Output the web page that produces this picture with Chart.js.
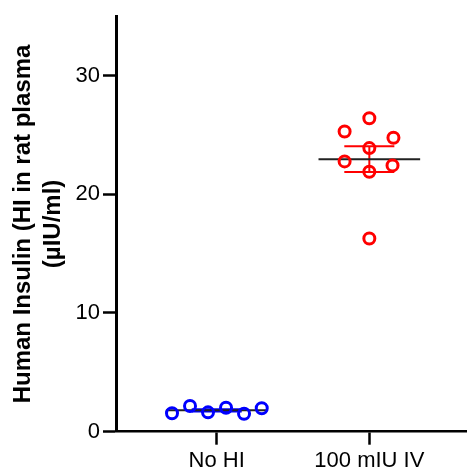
<!DOCTYPE html>
<html><head><meta charset="utf-8">
<script src="https://cdn.jsdelivr.net/npm/chart.js@4.4.1/dist/chart.umd.min.js"></script>
<style>html,body{margin:0;padding:0;background:#fff}#wrap{width:467px;height:470px}</style>
</head><body><div id="wrap"><canvas id="c" width="467" height="470"></canvas></div>
<script>
const categories = ['No HI', '100 mIU IV'];
const noHIValues = [1.55, 2.16, 1.63, 2.02, 1.51, 1.97];
const noHIJitter = [-0.293, -0.175, -0.057, 0.061, 0.179, 0.295];
const ivValues = [26.41, 25.29, 24.76, 23.89, 22.77, 22.43, 21.9, 16.27];
const ivJitter = [0, -0.162, 0.158, 0, -0.162, 0.152, 0, 0];
const groupMeans = [1.8, 22.96];
const groupSEMs = [0.1, 1.09];
const yTicks = [0, 10, 20, 30];
const groupColors = ['#0000ff', '#ff0000'];

Chart.defaults.font.family = "'Liberation Sans', Arial, Helvetica, sans-serif";
Chart.defaults.color = '#000';

function pts(vals, jit, cat) { return vals.map((v, i) => ({x: cat + jit[i], y: v})); }
function seg(a, b, color, w) {
  return {type: 'scatter', data: [a, b], showLine: true, borderColor: color, borderWidth: w,
    pointRadius: 0, pointHoverRadius: 0, order: 2, clip: false};
}
const datasets = [
  {type: 'scatter', data: pts(noHIValues, noHIJitter, 1), pointStyle: 'circle', pointRadius: 5.5,
    borderWidth: 3, borderColor: groupColors[0], backgroundColor: 'rgba(0,0,0,0)', order: 0},
  {type: 'scatter', data: pts(ivValues, ivJitter, 2), pointStyle: 'circle', pointRadius: 5.5,
    borderWidth: 3, borderColor: groupColors[1], backgroundColor: 'rgba(0,0,0,0)', order: 0}
];
groupMeans.forEach((m, i) => {
  const c = i + 1, s = groupSEMs[i], col = groupColors[i];
  datasets.push(seg({x: c, y: m - s}, {x: c, y: m + s}, col, 2));
  datasets.push(seg({x: c - 0.164, y: m + s}, {x: c + 0.164, y: m + s}, col, 2));
  datasets.push(seg({x: c - 0.164, y: m - s}, {x: c + 0.164, y: m - s}, col, 2));
  const ml = seg({x: c - 0.333, y: m}, {x: c + 0.333, y: m}, '#222', 2);
  ml.order = 1;
  datasets.push(ml);
});

new Chart(document.getElementById('c'), {
  type: 'scatter',
  data: {datasets},
  options: {
    responsive: false, animation: false, devicePixelRatio: 1,
    layout: {autoPadding: false, padding: {top: 15.5, left: 0, right: 0, bottom: 0}},
    plugins: {legend: {display: false}, tooltip: {enabled: false}},
    events: [],
    scales: {
      x: {
        type: 'linear', min: 0.34, max: 2.64,
        afterBuildTicks: s => { s.ticks = categories.map((c, i) => ({value: i + 1})); },
        afterFit: s => { s.height = 38.3; s.paddingLeft = 0; s.paddingRight = 0; },
        ticks: {callback: v => categories[Math.round(v) - 1] || '', font: {size: 22}, color: '#000', padding: 3, maxRotation: 0},
        grid: {drawOnChartArea: false, drawTicks: true, tickLength: 13, tickWidth: 2.5, tickColor: '#000'},
        border: {display: true, color: '#000', width: 2.5}
      },
      y: {
        min: 0, max: 35,
        afterBuildTicks: s => { s.ticks = yTicks.map(v => ({value: v})); },
        afterFit: s => { s.width = 116; },
        ticks: {font: {size: 22}, color: '#000', padding: 3},
        grid: {drawOnChartArea: false, drawTicks: true, tickLength: 13, tickWidth: 2.5, tickColor: '#000'},
        border: {display: true, color: '#000', width: 3},
        title: {display: true, text: ['Human Insulin (HI in rat plasma', '(\u00b5IU/ml)'],
          font: {size: 24, weight: 'bold', lineHeight: 1.25}, color: '#000', padding: {top: 8, bottom: 0}}
      }
    }
  }
});
</script></body></html>
